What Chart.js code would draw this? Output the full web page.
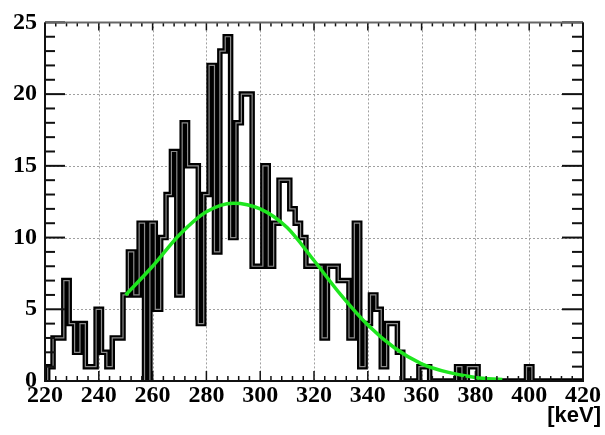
<!DOCTYPE html>
<html>
<head>
<meta charset="utf-8">
<script src="https://cdn.jsdelivr.net/npm/chart.js@4.4.0/dist/chart.umd.min.js"></script>
<style>
  html, body { margin: 0; background: #fff; }
</style>
</head>
<body>
<canvas id="chartHist" width="605" height="435"></canvas>
<script>
// Energy spectrum, 2 keV bins centred on even energies (first bin 219-221)
const binStart = 219;
const binWidth = 2;
const counts = [
    0, 1, 3, 3, 7, 4, 2, 4, 1, 1,        // 220 .. 238
    5, 2, 1, 3, 3, 6, 9, 6, 11, 0,       // 240 .. 258
    11, 5, 10, 13, 16, 6, 18, 15, 15, 4, // 260 .. 278
    13, 22, 9, 23, 24, 10, 18, 20, 20, 8,// 280 .. 298
    8, 15, 8, 11, 14, 14, 12, 11, 10, 8, // 300 .. 318
    8, 8, 3, 8, 8, 7, 7, 3, 11, 1,       // 320 .. 338
    4, 6, 5, 1, 4, 4, 2, 0, 0, 0,        // 340 .. 358
    1, 1, 0, 0, 0, 0, 0, 1, 0, 1,        // 360 .. 378
    1, 0, 0, 0, 0, 0, 0, 0, 0, 0,        // 380 .. 398
    1, 0, 0, 0, 0, 0, 0, 0, 0, 0, 0      // 400 .. 420
];

// green fit curve
const fitEnergy = [250, 260, 270, 280, 290, 300, 310, 320, 330, 340, 350, 360, 370, 380, 390];
const fitValues = [6.0, 8.0, 10.2, 11.8, 12.4, 12.0, 10.7, 8.4, 6.0, 3.9, 2.3, 1.2, 0.6, 0.25, 0.1];

const xTicks = [220, 240, 260, 280, 300, 320, 340, 360, 380, 400, 420];
const yTicks = [0, 5, 10, 15, 20, 25];
const xMinorStep = 4;
const yMinorStep = 1;

const histPoints = counts.map((c, i) => ({ x: binStart + i * binWidth, y: c }));
histPoints.push({ x: binStart + counts.length * binWidth, y: counts[counts.length - 1] });
const fitPoints = fitEnergy.map((e, i) => ({ x: e, y: fitValues[i] }));

function seg(ctx, x1, y1, x2, y2) {
    ctx.beginPath(); ctx.moveTo(x1, y1); ctx.lineTo(x2, y2); ctx.stroke();
}

// ROOT-like frame: dotted grid, inward ticks on all four sides
const rootFrame = {
    id: 'rootFrame',
    beforeDatasetsDraw(chart) {
        const { ctx, chartArea: a, scales: { x, y } } = chart;
        ctx.save();
        ctx.strokeStyle = '#a0a0a0';
        ctx.lineWidth = 1;
        ctx.setLineDash([2, 2]);
        xTicks.slice(1, -1).forEach(v => {
            const px = Math.round(x.getPixelForValue(v)) + 0.5;
            seg(ctx, px, a.top, px, a.bottom);
        });
        yTicks.slice(1, -1).forEach(v => {
            const py = Math.round(y.getPixelForValue(v)) + 0.5;
            seg(ctx, a.left, py, a.right, py);
        });
        ctx.restore();
    },
    afterDatasetsDraw(chart) {
        const { ctx, chartArea: a, scales: { x, y } } = chart;
        ctx.save();
        ctx.strokeStyle = '#111';
        // x ticks, bottom and top
        ctx.lineWidth = 1.5;
        for (let v = xTicks[0]; v <= xTicks[xTicks.length - 1]; v += xMinorStep) {
            const px = x.getPixelForValue(v);
            const major = xTicks.includes(v);
            seg(ctx, px, a.bottom, px, a.bottom - (major ? 10 : 5));
            seg(ctx, px, a.top, px, a.top + (major ? 8 : 4));
        }
        // y ticks, left and right
        ctx.lineWidth = 2;
        for (let v = yTicks[0]; v <= yTicks[yTicks.length - 1]; v += yMinorStep) {
            const py = y.getPixelForValue(v);
            const major = yTicks.includes(v);
            seg(ctx, a.left, py, a.left + (major ? 20 : 10), py);
            seg(ctx, a.right, py, a.right - (major ? 21 : 11), py);
        }
        // frame
        ctx.lineWidth = 2;
        ctx.strokeStyle = '#666';
        seg(ctx, a.left, a.top, a.right, a.top);
        ctx.strokeStyle = '#111';
        seg(ctx, a.left, a.top, a.left, a.bottom + 1);
        seg(ctx, a.right, a.top, a.right, a.bottom + 1);
        seg(ctx, a.left - 1, a.bottom, a.right + 1, a.bottom);
        // unit label
        ctx.fillStyle = '#000';
        ctx.font = 'bold 22px "Liberation Sans", Arial, sans-serif';
        ctx.textAlign = 'right';
        ctx.textBaseline = 'middle';
        ctx.fillText('[keV]', 601, 416);
        ctx.restore();
    }
};

const tickFont = { family: '"Liberation Serif", "Times New Roman", serif', size: 24, weight: 'bold' };

new Chart(document.getElementById('chartHist'), {
    type: 'line',
    data: {
        datasets: [
            {
                label: 'fit',
                data: fitPoints,
                borderColor: '#1ee61e',
                borderWidth: 3.5,
                pointRadius: 0,
                tension: 0.4,
                cubicInterpolationMode: 'monotone',
            },
            {
                label: 'core',
                data: histPoints,
                stepped: 'before',
                borderColor: '#8c8c8c',
                borderWidth: 1.2,
                pointRadius: 0,
            },
            {
                label: 'counts',
                data: histPoints,
                stepped: 'before',
                borderColor: '#000',
                borderWidth: 5.5,
                pointRadius: 0,
            }
        ]
    },
    options: {
        responsive: false,
        animation: false,
        layout: { padding: { top: 14, right: 22, left: 0, bottom: 0 } },
        plugins: { legend: { display: false }, tooltip: { enabled: false } },
        scales: {
            x: {
                type: 'linear',
                min: 220, max: 420,
                afterBuildTicks: s => { s.ticks = xTicks.map(v => ({ value: v })); },
                afterFit: s => { s.height = 54; },
                ticks: { color: '#000', font: tickFont, padding: 0, maxRotation: 0, autoSkip: false },
                grid: { display: false, drawTicks: false },
                border: { display: false }
            },
            y: {
                min: 0, max: 25,
                afterBuildTicks: s => { s.ticks = yTicks.map(v => ({ value: v })); },
                afterFit: s => { s.width = 45; },
                ticks: { color: '#000', font: tickFont, padding: 8 },
                grid: { display: false, drawTicks: false },
                border: { display: false }
            }
        }
    },
    plugins: [rootFrame]
});
</script>
</body>
</html>
